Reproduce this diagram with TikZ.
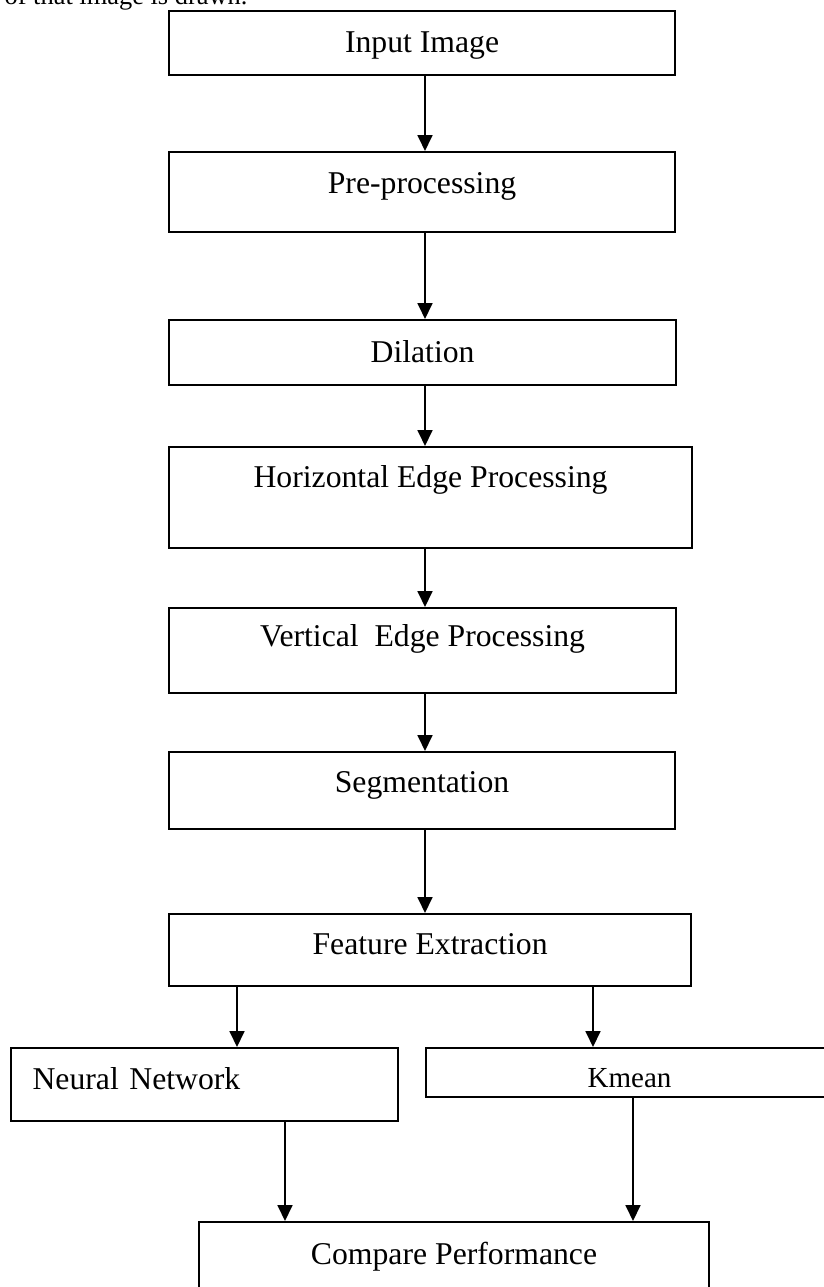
\documentclass[tikz,border=0pt]{standalone}
\usepackage{fontspec}
\setmainfont{Liberation Serif}
\usetikzlibrary{arrows.meta}

\begin{document}
\begin{tikzpicture}[x=0.3785pt, y=-0.3785pt,
    box/.style={draw, line width=0.8pt, anchor=north west, inner sep=0pt, font=\fontsize{12}{14}\selectfont},
    flow/.style={->, >={Triangle[width=5.6pt,length=6pt]}, line width=0.8pt}]

      \useasboundingbox (0,0) rectangle (824,1287);
      \clip (0,0) rectangle (824,1287);

      \node[anchor=base east, inner sep=0pt, font=\fontsize{10}{12}\selectfont] (cut) at (248,5) {r of that image is drawn.};

      \node[box, minimum width=191.5pt, text height=15.52pt, text depth=8.71pt] (in) at (168,10) {Input Image};
      \node[box, minimum width=191.5pt, text height=15.52pt, text depth=14.76pt] (pre) at (168,151) {Pre-processing};
      \node[box, minimum width=191.9pt, text height=15.90pt, text depth=8.71pt] (dil) at (168,319) {Dilation};
      \node[box, minimum width=197.96pt, text height=15.14pt, text depth=23.09pt] (hep) at (168,446) {Horizontal Edge Processing};
      \node[box, minimum width=191.9pt, text height=14.38pt, text depth=17.79pt] (vep) at (168,607) {Vertical\ \ Edge Processing};
      \node[box, minimum width=191.5pt, text height=15.14pt, text depth=14.00pt] (seg) at (168,751) {Segmentation};
      \node[box, minimum width=197.6pt, text height=15.14pt, text depth=12.11pt] (feat) at (168,913) {Feature Extraction};

      \node[box, inner xsep=8.33pt, text width=130.0pt, align=left, text height=15.52pt, text depth=12.11pt] (nn) at (9.5,1047) {Neural Network};
      \node[box, minimum width=154.0pt, text height=14.76pt, text depth=3.79pt, font=\fontsize{11}{13}\selectfont] (km) at (425,1047) {Kmean};

      \node[box, minimum width=193.0pt, text height=15.90pt, text depth=30.3pt] (cmp) at (198,1221) {Compare Performance};

      % arrow columns
      \coordinate (spine) at (425,0);
      \coordinate (nnin) at (237,0);
      \coordinate (kmin) at (593,0);
      \coordinate (nnout) at (285,0);
      \coordinate (kmout) at (633,0);

      \foreach \a/\b in {in/pre, pre/dil, dil/hep, hep/vep, vep/seg, seg/feat}
        \draw[flow] (\a.south -| spine) -- (\b.north -| spine);

      \draw[flow] (feat.south -| nnin) -- (nn.north -| nnin);
      \draw[flow] (feat.south -| kmin) -- (km.north -| kmin);
      \draw[flow] (nn.south -| nnout) -- (cmp.north -| nnout);
      \draw[flow] (km.south -| kmout) -- (cmp.north -| kmout);

    \end{tikzpicture}
\end{document}
